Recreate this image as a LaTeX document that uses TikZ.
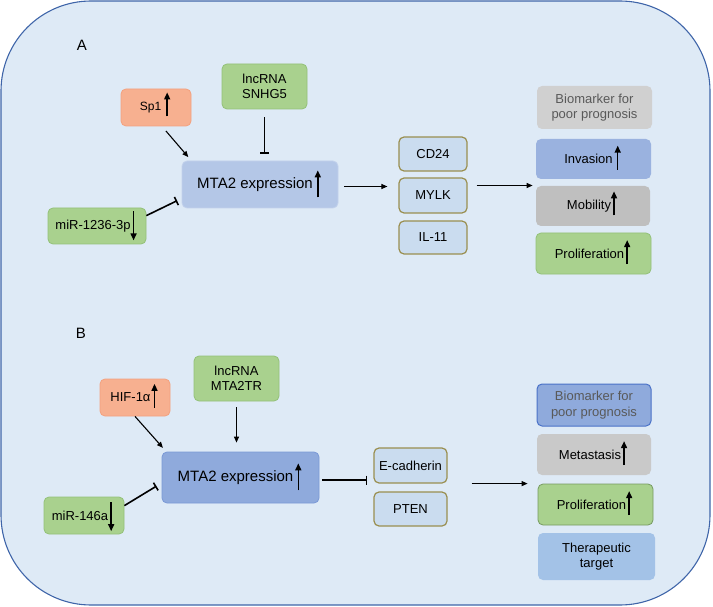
\documentclass[tikz,border=0pt]{standalone}
\usepackage{fontspec}
\setmainfont{Liberation Sans}
\usepackage{tikz}
\usetikzlibrary{arrows.meta,positioning,calc}
\definecolor{PanelFill}{HTML}{DEEAF6}
\definecolor{PanelLine}{HTML}{3F65A9}
\definecolor{Salmon}{HTML}{F7B090}
\definecolor{SalmonLine}{HTML}{F3A17F}
\definecolor{Leaf}{HTML}{A9D18E}
\definecolor{LeafLine}{HTML}{93C178}
\definecolor{PaleBlue}{HTML}{B4C7E7}
\definecolor{MidBlue}{HTML}{8FAADC}
\definecolor{DeepBlue}{HTML}{4A72C8}
\definecolor{GeneFill}{HTML}{CADCEF}
\definecolor{GeneLine}{HTML}{9A8F50}
\definecolor{Stone}{HTML}{BFBFBF}
\definecolor{LightStone}{HTML}{D0D0D0}
\definecolor{SkyBlue}{HTML}{A3C2E7}
\definecolor{Slate}{HTML}{595959}

\newcommand{\uparr}[2][-6pt]{\hspace{#2}\tikz[overlay,baseline=0pt]\draw[draw=black,fill=none,line width=1.5pt,-{Triangle[length=7pt,width=6pt]}] (0pt,#1) -- (0pt,18pt);\hspace{5pt}}
\newcommand{\dnarr}[1]{\hspace{#1}\tikz[overlay,baseline=0pt]\draw[draw=black,fill=none,line width=1.5pt,-{Triangle[length=7pt,width=6pt]}] (0pt,18pt) -- (0pt,-11pt);\hspace{5pt}}

\begin{document}
\begin{tikzpicture}[x=1pt,y=-1pt,
  box/.style={rounded corners=5pt,align=center,inner sep=2pt,line width=0.8pt,
    font=\fontsize{13}{15.5}\selectfont},
  orangebox/.style={box,fill=Salmon,draw=SalmonLine,minimum width=70pt,minimum height=37pt},
  greenbox/.style={box,fill=Leaf,draw=LeafLine},
  exprbox/.style={box,font=\fontsize{15}{18}\selectfont},
  genebox/.style={box,fill=GeneFill,draw=GeneLine,line width=1.2pt,minimum height=34pt},
  outbox/.style={box,minimum width=115pt,minimum height=41pt},
  act/.style={-{Triangle[length=6pt,width=5pt]},line width=1.1pt},
  inh/.style={-{Bar[width=9pt]},line width=1.6pt}]
  \useasboundingbox (0,0) rectangle (713,607);
  \draw[fill=PanelFill,draw=PanelLine,line width=1.1pt,rounded corners=90pt] (1,1) rectangle (710,605);

  % panel A
  \node[font=\fontsize{15}{18}\selectfont] (labA) at (82,45) {A};
  \node[orangebox,font=\fontsize{12}{14}\selectfont] (sp1) at (156,107.5) {Sp1\uparr{6pt}};
  \node[greenbox,minimum width=85pt,minimum height=45pt] (snhg) at (264.5,86.5) {lncRNA\\SNHG5};
  \node[exprbox,fill=PaleBlue,draw=PaleBlue!80!white,minimum width=156pt,minimum height=47pt] (mtaA) at (260,184.5) {MTA2 expression\uparr[-9pt]{5pt}};
  \node[greenbox,minimum width=98pt,minimum height=36pt] (mirA) at (97,226) {miR-1236-3p\dnarr{3pt}};
  \node[genebox,minimum width=68pt] (cd24) at (433,154) {CD24};
  \node[genebox,minimum width=68pt,minimum height=35pt] (mylk) at (433,195.5) {MYLK};
  \node[genebox,minimum width=68pt,minimum height=33pt] (il11) at (433,237.5) {IL-11};
  \node[outbox,fill=LightStone,text=Slate,minimum height=43pt] (bioA) at (594.5,107.5) {Biomarker for\\poor prognosis};
  \node[outbox,fill=MidBlue!90!white,minimum height=40pt] (inv) at (593.5,159) {Invasion\uparr{5pt}};
  \node[outbox,fill=Stone,minimum width=114pt,minimum height=40pt] (mob) at (593,206) {Mobility\uparr{3pt}};
  \node[outbox,fill=Leaf,draw=LeafLine] (proA) at (593.5,253.5) {Proliferation\uparr{3pt}};

  \draw[act,shorten <=6pt,shorten >=2pt] ([xshift=6pt]sp1.south) -- ([xshift=8pt,yshift=2pt]mtaA.north west);
  \draw[inh,shorten <=8pt,shorten >=7pt] (snhg.south) -- (snhg.south |- mtaA.north);
  \draw[inh,shorten >=5pt] ([yshift=-8pt]mirA.north east) -- ([yshift=-14pt]mtaA.west);
  \draw[act,shorten <=6pt,shorten >=11pt] ([yshift=-2pt]mtaA.east) -- ([yshift=-2pt]mtaA.east -| mylk.west);
  \draw[act,shorten <=9pt,shorten >=3pt] ([yshift=10pt]mylk.east) -- ([yshift=10pt]mylk.east -| inv.west);

  % panel B
  \node[font=\fontsize{15}{18}\selectfont] (labB) at (81,333) {B};
  \node[orangebox] (hif) at (135,397.5) {HIF-1α\uparr{4pt}};
  \node[greenbox,minimum width=85pt,minimum height=45pt] (mta2tr) at (236.5,378.5) {lncRNA\\MTA2TR};
  \node[exprbox,fill=MidBlue,draw=MidBlue!70!DeepBlue,minimum width=157pt,minimum height=51pt] (mtaB) at (240.5,477.5) {MTA2 expression\uparr[-9pt]{5pt}};
  \node[greenbox,minimum width=80pt,minimum height=37pt] (mirB) at (84,515.5) {miR-146a\dnarr{3pt}};
  \node[genebox,minimum width=73pt,minimum height=35pt] (ecad) at (410.5,465.5) {E-cadherin};
  \node[genebox,minimum width=73pt] (pten) at (410.5,509) {PTEN};
  \node[outbox,fill=MidBlue,draw=DeepBlue,line width=1pt,text=Slate,minimum width=114pt,minimum height=42pt] (bioB) at (594,405) {Biomarker for\\poor prognosis};
  \node[outbox,fill=Stone!85!white,minimum width=114pt] (met) at (594,454.5) {Metastasis\uparr{3pt}};
  \node[outbox,fill=Leaf,draw=LeafLine!80!black] (proB) at (595.5,504.5) {Proliferation\uparr{3pt}};
  \node[outbox,fill=SkyBlue,minimum width=117pt,minimum height=47pt] (ther) at (596.5,556.5) {Therapeutic\\target};

  \draw[act,shorten >=1pt] (hif.south) -- ([xshift=2pt,yshift=3pt]mtaB.north west);
  \draw[act,shorten <=6pt,shorten >=9pt] (mta2tr.south) -- (mta2tr.south |- mtaB.north);
  \draw[inh,shorten >=6pt] ([yshift=-9pt]mirB.north east) -- ([yshift=-5.5pt]mtaB.west);
  \draw[inh,shorten <=3pt,shorten >=6pt] ([yshift=-2.5pt]mtaB.east) -- ([yshift=-2.5pt]mtaB.east -| ecad.west);
  \draw[act,shorten <=24pt,shorten >=9pt] (ecad.south east) -- (ecad.south east -| met.west);
\end{tikzpicture}
\end{document}
